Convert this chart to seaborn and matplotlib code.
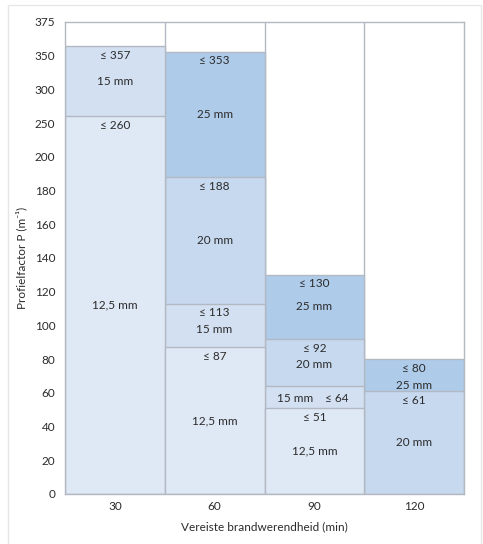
import numpy as np
import pandas as pd
import matplotlib
matplotlib.use("Agg")
import matplotlib.pyplot as plt
import seaborn as sns
from matplotlib.patches import Rectangle

# data: fire resistance columns, plate thickness segments and their upper limit
times = [30, 60, 90, 120]
sizes = ["12,5 mm", "15 mm", "20 mm", "25 mm"]
limits = {
    30: {"12,5 mm": 260, "15 mm": 357},
    60: {"12,5 mm": 87, "15 mm": 113, "20 mm": 188, "25 mm": 353},
    90: {"12,5 mm": 51, "15 mm": 64, "20 mm": 92, "25 mm": 130},
    120: {"20 mm": 61, "25 mm": 80},
}
y_ticks = [0, 20, 40, 60, 80, 100, 120, 140, 160, 180, 200, 250, 300, 350, 375]

colors = {"12,5 mm": "#dfe8f5", "15 mm": "#d3e0f2", "20 mm": "#c7d9ef", "25 mm": "#aecbea"}
edge = "#b3b9c2"
txt = "#2b2b2b"

rows = []
for t in times:
    for s, v in limits[t].items():
        rows.append({"time": t, "size": s, "top": v})
df = pd.DataFrame(rows)

sns.set_theme(style="white")
plt.rcParams["font.family"] = ["Lato", "DejaVu Sans"]

fig = plt.figure(figsize=(4.83, 5.44), dpi=100)
ax = fig.add_axes([65 / 483, 1 - 494 / 544, 399 / 483, 472 / 544])

# piecewise axis: ticks are evenly spaced
idx = np.arange(len(y_ticks), dtype=float)
fwd = lambda y: np.interp(y, y_ticks, idx)
inv = lambda u: np.interp(u, idx, y_ticks)

# draw tallest layer first so shorter ones sit on top
for s in sizes[::-1]:
    sub = df[df["size"] == s]
    sns.barplot(data=sub, x="time", y="top", order=times, color=colors[s],
                width=1.0, errorbar=None, edgecolor=edge, linewidth=1.0,
                saturation=1, ax=ax, zorder=2)

ax.set_yscale("function", functions=(fwd, inv))
ax.set_ylim(0, 375)
ax.set_xlim(-0.5, 3.5)
ax.set_yticks(y_ticks)
ax.set_yticklabels([str(v) for v in y_ticks])
for xv in [0.5, 1.5, 2.5]:
    ax.axvline(xv, color=edge, lw=1.0, zorder=1)

# labels inside the segments
for i, t in enumerate(times):
    segs = sorted(limits[t].items(), key=lambda kv: kv[1])
    prev = 0
    for s, top in segs:
        u_top, u_bot = fwd(top), fwd(prev)
        if u_top - u_bot < 0.8:
            # thin segment: size and limit side by side
            yy = inv(u_top - 0.36)
            ax.annotate(s, (i, yy), xytext=(-19, 0), textcoords="offset pixels",
                        ha="center", va="center", fontsize=8.5, color=txt, zorder=5)
            ax.annotate(f"≤ {top}", (i, yy), xytext=(22, 0), textcoords="offset pixels",
                        ha="center", va="center", fontsize=8.5, color=txt, zorder=5)
        else:
            ax.text(i, inv(u_top - 0.27), f"≤ {top}", ha="center", va="center",
                    fontsize=8.5, color=txt, zorder=5)
            yc = min((u_top + u_bot) / 2, u_top - 0.77)
            ax.text(i, inv(yc), s, ha="center", va="center",
                    fontsize=8.5, color=txt, zorder=5)
        prev = top

for sp in ax.spines.values():
    sp.set_color(edge)
    sp.set_linewidth(1.0)
ax.tick_params(axis="both", length=0, labelsize=8.5, labelcolor=txt)
ax.tick_params(axis="y", pad=7)
ax.tick_params(axis="x", pad=5)
ax.set_xlabel("Vereiste brandwerendheid (min)", fontsize=8.5, color=txt, labelpad=7)
ax.set_ylabel("Profielfactor P (m⁻¹)", fontsize=8.5, color=txt, labelpad=5)

# faint card border
fig.patches.append(Rectangle((8 / 483, -0.01), 473 / 483, 1 - 5 / 544 + 0.01,
                             transform=fig.transFigure, fill=False,
                             edgecolor="#e6e6e6", lw=1.0))

fig.savefig("out.png", dpi=100)
